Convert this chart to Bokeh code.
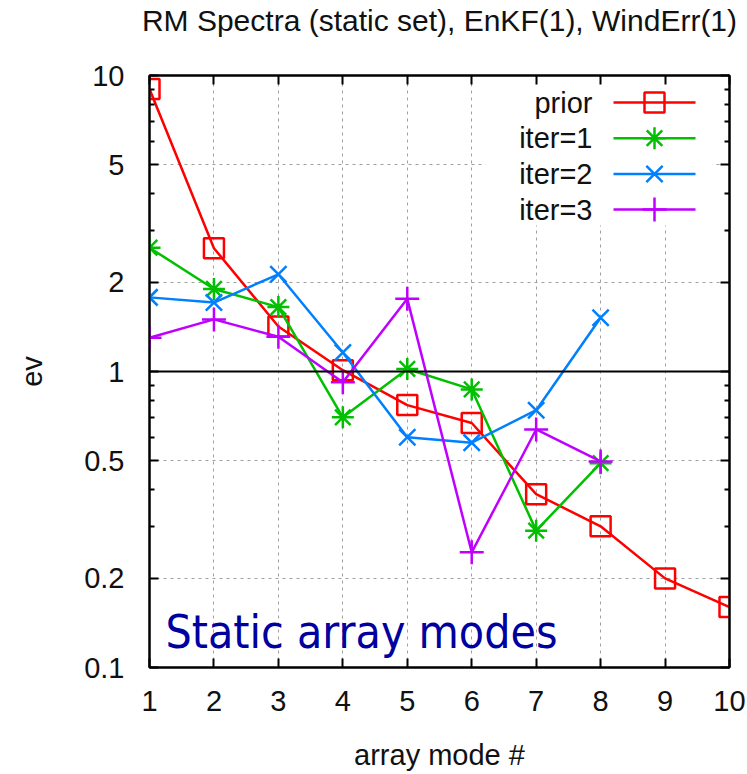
from bokeh.plotting import figure
from bokeh.models import (FixedTicker, Range1d, LinearScale, LogAxis, LinearAxis,
                          Span, CustomJSTickFormatter)
from bokeh.core.properties import value
from bokeh.embed import file_html
from bokeh.resources import INLINE

# ---------------- data ----------------
modes = [1, 2, 3, 4, 5, 6, 7, 8, 9, 10]
modes_iter = [1, 2, 3, 4, 5, 6, 7, 8]
prior = [9.0, 2.61, 1.42, 1.01, 0.77, 0.67, 0.385, 0.30, 0.20, 0.16]
iter1 = [2.62, 1.90, 1.65, 0.70, 1.02, 0.87, 0.29, 0.49]
iter2 = [1.78, 1.71, 2.13, 1.16, 0.60, 0.575, 0.74, 1.52]
iter3 = [1.30, 1.50, 1.31, 0.92, 1.76, 0.245, 0.637, 0.497]
series_names = ["prior", "iter=1", "iter=2", "iter=3"]
series_x = [modes, modes_iter, modes_iter, modes_iter]
series_y = [prior, iter1, iter2, iter3]
colors = ["#ff0000", "#00c000", "#0080ff", "#c000ff"]
markers = ["square", "asterisk", "x", "cross"]
marker_sizes = [20, 22, 23, 24]

x_ticks = [1, 2, 3, 4, 5, 6, 7, 8, 9, 10]
y_ticks = [0.1, 0.2, 0.5, 1, 2, 5, 10]
y_tick_labels = ["0.1", "0.2", "0.5", "1", "2", "5", "10"]
y_minor = [0.3, 0.4, 0.6, 0.7, 0.8, 0.9, 3, 4, 6, 7, 8, 9]
ref_level = 1

title = "RM Spectra (static set), EnKF(1), WindErr(1)"
x_label = "array mode #"
y_label = "ev"
note = "Static array modes"

FONT = "Liberation Sans"
FS = "29px"
LW = 2.5

# ---------------- figure ----------------
W, H = 747, 774
ML, MR, MT, MB = 149, 18, 75, 107
FW, FH = W - ML - MR, H - MT - MB

p = figure(width=W, height=H, x_range=Range1d(1, 10), y_range=Range1d(0.1, 10),
           y_axis_type="log", output_backend="svg", toolbar_location=None,
           min_border_left=ML, min_border_right=MR, min_border_top=MT,
           min_border_bottom=MB, background_fill_color="white",
           border_fill_color="white")

p.outline_line_color = "black"
p.outline_line_width = 2

# pixel coordinate system on the frame (y from top) for the key and note
p.extra_x_ranges = {"px": Range1d(0, FW)}
p.extra_y_ranges = {"px": Range1d(FH, 0)}
p.extra_x_scales = {"px": LinearScale()}
p.extra_y_scales = {"px": LinearScale()}

xt = FixedTicker(ticks=x_ticks, minor_ticks=[])
yt = FixedTicker(ticks=y_ticks, minor_ticks=y_minor)

def style_axis(ax):
    ax.axis_line_color = "black"
    ax.axis_line_width = 2
    ax.major_tick_in = 9
    ax.major_tick_out = 0
    ax.minor_tick_in = 5
    ax.minor_tick_out = 0
    ax.major_tick_line_width = 2
    ax.minor_tick_line_width = 2
    ax.major_tick_line_color = "black"
    ax.minor_tick_line_color = "black"
    ax.major_label_text_font = FONT
    ax.major_label_text_font_size = FS
    ax.major_label_text_color = "#111111"
    ax.axis_label_text_font = FONT
    ax.axis_label_text_font_size = FS
    ax.axis_label_text_font_style = "normal"
    ax.axis_label_text_color = "#111111"

xa = p.xaxis[0]
xa.ticker = xt
style_axis(xa)
xa.major_label_standoff = 23
xa.axis_label = x_label
xa.axis_label_standoff = 25

ya = p.yaxis[0]
ya.ticker = yt
style_axis(ya)
ya.major_label_overrides = {t: l for t, l in zip(y_ticks, y_tick_labels)}
ya.major_label_standoff = 25
ya.axis_label = y_label
ya.axis_label_standoff = 33

empty = CustomJSTickFormatter(code="return ''")
# top mirror axis; its axis label carries the chart title
ta = LinearAxis(ticker=xt, formatter=empty)
style_axis(ta)
ta.major_label_standoff = 0
ta.axis_label = title
ta.axis_label_text_font_size = "30px"
ta.axis_label_standoff = 39
p.add_layout(ta, "above")
ra = LogAxis(ticker=yt, formatter=empty)
style_axis(ra)
ra.major_label_standoff = 0
p.add_layout(ra, "right")

for g in (p.xgrid[0], p.ygrid[0]):
    g.grid_line_color = "#a0a0a0"
    g.grid_line_dash = "3 4"
    g.grid_line_width = 1
p.xgrid[0].ticker = xt
p.ygrid[0].ticker = yt

p.add_layout(Span(location=ref_level, dimension="width", line_color="black",
                  line_width=2))

# ---------------- key (gnuplot style, opaque) ----------------
key_left, key_right, key_top, key_bottom = 336, 563, 5, 150
p.quad(left=[key_left], right=[key_right], top=[key_top], bottom=[key_bottom],
       fill_color="white", line_color=None,
       x_range_name="px", y_range_name="px")
row0, row_step = 27, 35.7
label_right = 443
samp_l, samp_r, samp_c = 464, 546, 505
rows = [row0 + i * row_step for i in range(len(series_names))]

# ---------------- series ----------------
for i, (nm, xs, ys, c, m, s) in enumerate(zip(series_names, series_x, series_y,
                                                colors, markers, marker_sizes)):
    p.line(xs, ys, line_color=c, line_width=LW)
    p.scatter(xs, ys, marker=m, size=s, fill_color=None, line_color=c,
              line_width=LW)
    p.line([samp_l, samp_r], [rows[i], rows[i]], line_color=c, line_width=LW,
           x_range_name="px", y_range_name="px")
    p.scatter([samp_c], [rows[i]], marker=m, size=s, fill_color=None,
              line_color=c, line_width=LW, x_range_name="px", y_range_name="px")

p.text(x=[label_right] * len(series_names), y=rows, text=series_names,
       text_align="right", text_baseline="middle", text_font=value(FONT),
       text_font_size=FS, text_color="#111111",
       x_range_name="px", y_range_name="px")

p.text(x=[16], y=[556], text=[note], text_align="left",
       text_baseline="middle",
       text_font=value("DejaVu Sans Condensed, DejaVu Sans"),
       text_font_size="46px", text_color="#0000a0",
       x_range_name="px", y_range_name="px")

open("out.html", "w").write(file_html(p, INLINE))
